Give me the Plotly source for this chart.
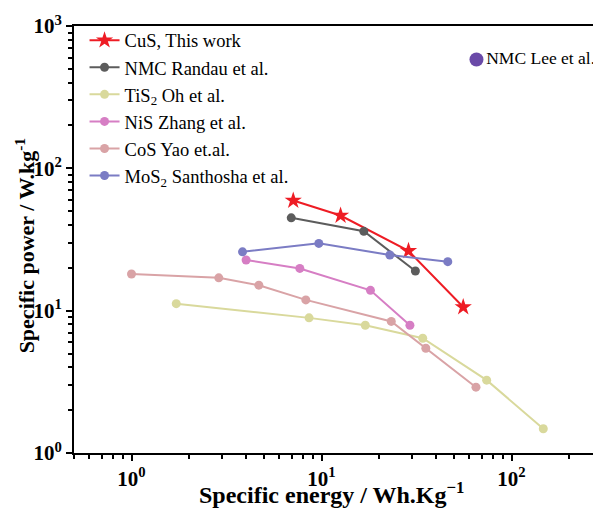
import plotly.graph_objects as go

# ---- data ----
cus_x = [7.1, 12.6, 28.7, 55.7]
cus_y = [59.4, 46.6, 26.3, 10.6]

nmc_randau_x = [6.93, 16.7, 31.2]
nmc_randau_y = [44.9, 36.1, 19.0]

tis2_x = [1.72, 8.6, 17.0, 34.1, 74.0, 147.0]
tis2_y = [11.2, 8.9, 7.9, 6.4, 3.25, 1.48]

nis_x = [4.01, 7.69, 18.1, 29.2]
nis_y = [22.7, 19.8, 13.9, 7.9]

cos_x = [1.0, 2.88, 4.68, 8.27, 23.3, 35.4, 65.0]
cos_y = [18.1, 17.0, 15.1, 11.9, 8.4, 5.44, 2.9]

mos2_x = [3.84, 9.68, 22.9, 46.2]
mos2_y = [25.9, 29.7, 24.6, 22.1]

nmc_lee_x = [65.4]
nmc_lee_y = [582]

tick_vals = [1, 10, 100, 1000]
tick_text = ["10<sup>0</sup>", "10<sup>1</sup>", "10<sup>2</sup>", "10<sup>3</sup>"]
x_minor_vals = [m * 10 ** e for e in range(-1, 3) for m in range(2, 10)]
y_minor_vals = [m * 10 ** e for e in range(0, 3) for m in range(2, 10)]

SERIF = "Liberation Serif, Times New Roman, serif"

fig = go.Figure()

def add_series(x, y, name, color, symbol="circle", size=9):
    fig.add_trace(go.Scatter(
        x=x, y=y, name=name, mode="lines+markers",
        line=dict(color=color, width=2),
        marker=dict(color=color, symbol=symbol, size=size),
    ))

add_series(cus_x, cus_y, "CuS, This work", "#ee1c24", symbol="star", size=13)
add_series(nmc_randau_x, nmc_randau_y, "NMC Randau et al.", "#5c5c5c")
add_series(tis2_x, tis2_y, "TiS<sub>2</sub> Oh et al.", "#d9d99c")
add_series(nis_x, nis_y, "NiS Zhang et al.", "#d67ec4")
add_series(cos_x, cos_y, "CoS Yao et.al.", "#d9a3a6")
add_series(mos2_x, mos2_y, "MoS<sub>2</sub> Santhosha et al.", "#7b7cc4")

fig.add_trace(go.Scatter(
    x=nmc_lee_x, y=nmc_lee_y, mode="markers+text", showlegend=False,
    marker=dict(color="#6a4aa8", size=14),
    text=["NMC Lee et al."], textposition="middle right",
    textfont=dict(family=SERIF, size=17.5, color="black"),
))

# the page body adds an 8px margin; the figure is sized to fill the rest
fig.update_layout(
    width=593, height=500,
    margin=dict(l=66, r=0, t=18, b=55),
    paper_bgcolor="white", plot_bgcolor="white",
    font=dict(family=SERIF, color="black"),
    legend=dict(
        x=0.02, y=1.01, xanchor="left", yanchor="top",
        font=dict(family=SERIF, size=18.5, color="black"),
        bgcolor="rgba(0,0,0,0)",
    ),
    showlegend=True,
    annotations=[
        dict(text="Specific energy / Wh.Kg<sup>−1</sup>", xref="paper", yref="paper",
             x=0.49, y=-0.093, xanchor="center", yanchor="middle", showarrow=False,
             font=dict(family=SERIF, size=24, color="black", weight="bold")),
        dict(text="Specific power / W.kg<sup>-1</sup>", xref="paper", yref="paper",
             x=-0.094, y=0.485, xanchor="center", yanchor="middle", showarrow=False,
             textangle=-90,
             font=dict(family=SERIF, size=22, color="black", weight="bold")),
    ],
)

fig.update_xaxes(
    type="log", range=[-0.3026, 2.471], automargin=False,
    tickmode="array", tickvals=tick_vals[:3], ticktext=tick_text[:3],
    ticks="outside", ticklen=6, tickwidth=2, tickcolor="black",
    minor=dict(tickmode="array", tickvals=x_minor_vals, ticks="outside", ticklen=4,
               tickwidth=1.5, tickcolor="black"),
    showline=True, linewidth=2, linecolor="black", mirror=True,
    showgrid=False, zeroline=False,
    tickfont=dict(family=SERIF, size=21, color="black", weight="bold"),
)
fig.update_yaxes(
    type="log", range=[0, 3], automargin=False,
    tickmode="array", tickvals=tick_vals, ticktext=tick_text,
    ticks="outside", ticklen=6, tickwidth=2, tickcolor="black",
    minor=dict(tickmode="array", tickvals=y_minor_vals,
               ticks="outside", ticklen=4, tickwidth=1.5, tickcolor="black"),
    showline=True, linewidth=2, linecolor="black", mirror=False,
    showgrid=False, zeroline=False,
    tickfont=dict(family=SERIF, size=21, color="black", weight="bold"),
)

fig.write_html("out.html")
